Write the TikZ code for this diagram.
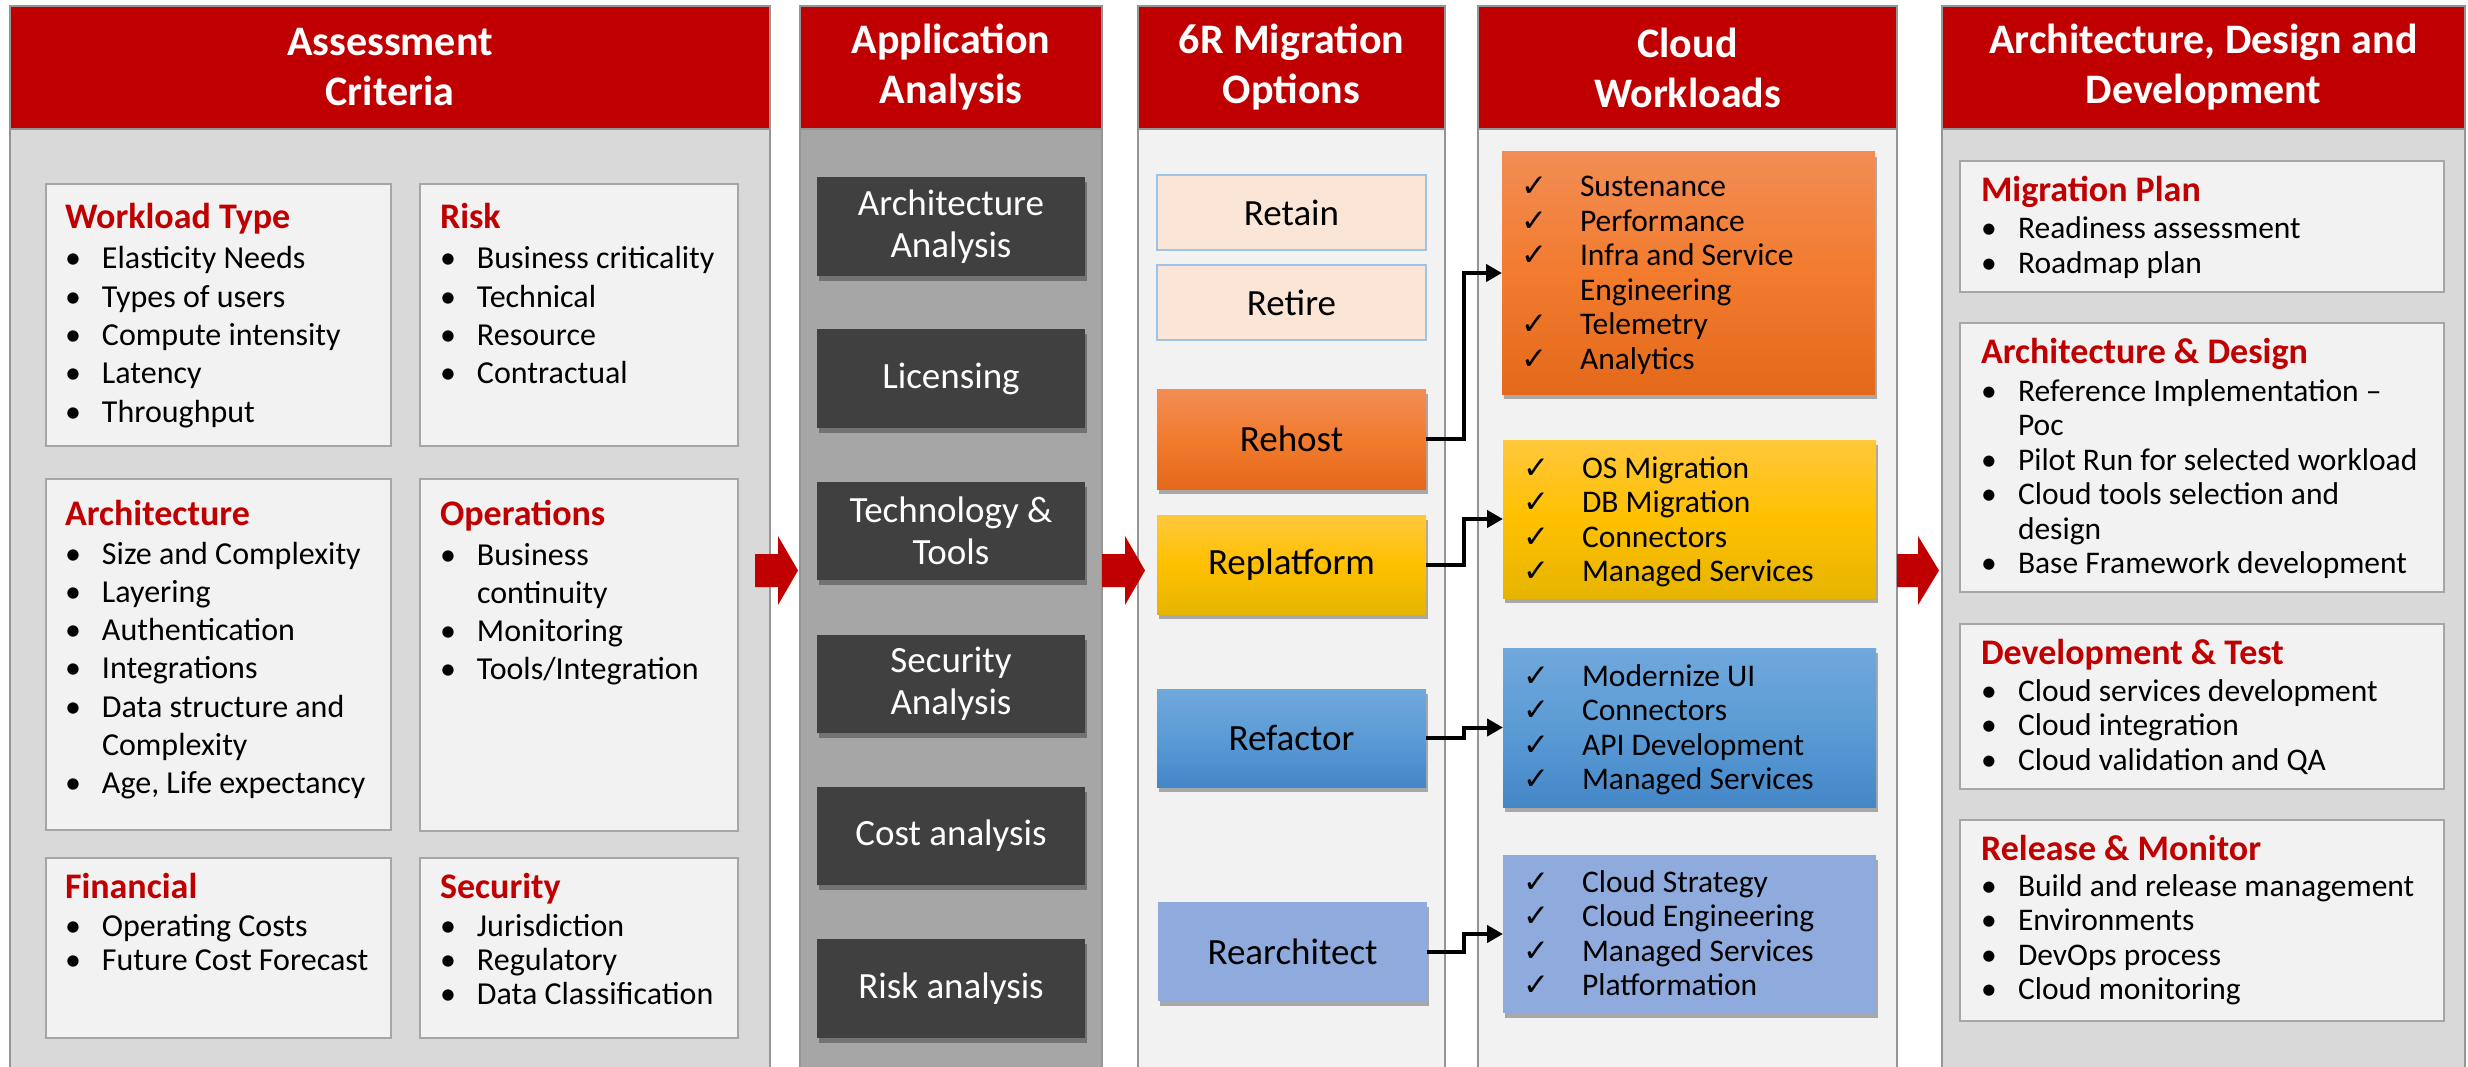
\documentclass[tikz,border=0pt]{standalone}
\usepackage{fontspec}
\setmainfont{Carlito}
\newfontfamily\symf{DejaVu Sans}
\usetikzlibrary{shadows,arrows.meta,calc}
\definecolor{hdr}{HTML}{C00000}
\definecolor{lgray}{HTML}{D9D9D9}
\definecolor{mgray}{HTML}{A6A6A6}
\definecolor{pale}{HTML}{F2F2F2}
\definecolor{colline}{HTML}{959595}
\definecolor{boxline}{HTML}{A6A6A6}
\definecolor{darkbox}{HTML}{404040}
\definecolor{retfill}{HTML}{FBE5D6}
\definecolor{retline}{HTML}{9DC3E6}
\definecolor{orT}{HTML}{F28D55}
\definecolor{orM}{HTML}{F27B2E}
\definecolor{orB}{HTML}{E4691A}
\definecolor{yeT}{HTML}{FFC83C}
\definecolor{yeM}{HTML}{FFC000}
\definecolor{yeB}{HTML}{E6B400}
\definecolor{blT}{HTML}{70A8DC}
\definecolor{blM}{HTML}{5B9BD5}
\definecolor{blB}{HTML}{4487C8}
\definecolor{peri}{HTML}{8FAADC}
\newcommand\bi{\makebox[37pt][l]{•}}
\newcommand\bc{\makebox[37pt][l]{}}
\newcommand\ck{\makebox[59pt][l]{\symf\fontsize{31}{31}\selectfont ✓}}
\newcommand\cc{\makebox[59pt][l]{}}
\begin{document}
\begin{tikzpicture}[x=1pt,y=-1pt,
  colbody/.style={draw=colline, line width=1.5pt, inner sep=0pt, outer sep=0pt, anchor=north west},
  hdrbox/.style={colbody, fill=hdr, text=white, align=center, font=\fontsize{42}{50}\selectfont\bfseries},
  catbox/.style={draw=boxline, fill=pale, line width=2pt, inner sep=0pt, outer sep=0pt, anchor=north west},
  cattitle/.style={anchor=base west, inner sep=0pt, outer sep=0pt, text=hdr, font=\fontsize{36}{43}\selectfont\bfseries},
  lista/.style={anchor=base west, inner sep=0pt, outer sep=0pt, font=\fontsize{32}{38.3}\selectfont},
  listb/.style={anchor=base west, inner sep=0pt, outer sep=0pt, font=\fontsize{32}{34}\selectfont},
  listc/.style={anchor=base west, inner sep=0pt, outer sep=0pt, font=\fontsize{31.5}{34.5}\selectfont},
  shad/.style={drop shadow={shadow xshift=2pt, shadow yshift=-5pt, opacity=0.3, fill=black}},
  darkbox/.style={fill=darkbox, text=white, inner sep=0pt, outer sep=0pt, anchor=north west, align=center,
     minimum width=268pt, font=\fontsize{37}{42}\selectfont, shad},
  optbox/.style={inner sep=0pt, outer sep=0pt, anchor=north west, align=center,
     minimum width=269pt, font=\fontsize{37}{42}\selectfont},
  wlbox/.style={inner sep=0pt, outer sep=0pt, anchor=north west, minimum width=373pt, shad},
  conn/.style={draw=black, line width=4pt, line join=miter, -{Triangle[length=16pt,width=17pt]}},
  redarrow/.style={fill=hdr}
]
\useasboundingbox (0,0) rectangle (2468,1067);
\clip (0,0) rectangle (2468,1067);
\fill[white] (0,0) rectangle (2468,1067);

% ---------- column bodies ----------
\node[colbody, fill=lgray, minimum width=760pt, minimum height=960pt] (c1) at (10,129) {};
\node[colbody, fill=mgray, minimum width=302pt, minimum height=960pt] (c2) at (800,129) {};
\node[colbody, fill=pale,  minimum width=307pt, minimum height=960pt] (c3) at (1138,129) {};
\node[colbody, fill=pale,  minimum width=419pt, minimum height=960pt] (c4) at (1478,129) {};
\node[colbody, fill=lgray, minimum width=523pt, minimum height=960pt] (c5) at (1942,129) {};

% ---------- headers ----------
\node[hdrbox, minimum width=760pt, minimum height=123pt] (h1) at (10,6) {Assessment\\Criteria};
\node[hdrbox, minimum width=302pt, minimum height=123pt] (h2) at (800,6) {Application\\Analysis};
\node[hdrbox, minimum width=307pt, minimum height=123pt] (h3) at (1138,6) {6R Migration\\Options};
\node[hdrbox, minimum width=419pt, minimum height=123pt] (h4) at (1478,6) {Cloud\\Workloads};
\node[hdrbox, minimum width=523pt, minimum height=123pt] (h5) at (1942,6) {Architecture, Design and\\Development};

% ---------- column 1 ----------
\node[catbox, minimum width=345pt, minimum height=262pt] (wl) at (46,184) {};
\node[catbox, minimum width=318pt, minimum height=262pt] (rk) at (420,184) {};
\node[catbox, minimum width=345pt, minimum height=351pt] (ar) at (46,479) {};
\node[catbox, minimum width=318pt, minimum height=352pt] (op) at (420,479) {};
\node[catbox, minimum width=345pt, minimum height=180pt] (fi) at (46,858) {};
\node[catbox, minimum width=318pt, minimum height=180pt] (se) at (420,858) {};

\node[cattitle] (wlt) at (65,229) {Workload Type};
\node[lista] (wll) at (65,269) {\begin{tabular}[t]{@{}l@{}}\bi Elasticity Needs\\\bi Types of users\\\bi Compute intensity\\\bi Latency\\\bi Throughput\end{tabular}};
\node[cattitle] (rkt) at (440,229) {Risk};
\node[lista] (rkl) at (440,269) {\begin{tabular}[t]{@{}l@{}}\bi Business criticality\\\bi Technical\\\bi Resource\\\bi Contractual\end{tabular}};
\node[cattitle] (art) at (65,525) {Architecture};
\node[lista] (arl) at (65,564) {\begin{tabular}[t]{@{}l@{}}\bi Size and Complexity\\\bi Layering\\\bi Authentication\\\bi Integrations\\\bi Data structure and\\\bc Complexity\\\bi Age, Life expectancy\end{tabular}};
\node[cattitle] (opt) at (440,525) {Operations};
\node[lista] (opl) at (440,565) {\begin{tabular}[t]{@{}l@{}}\bi Business\\\bc continuity\\\bi Monitoring\\\bi Tools/Integration\end{tabular}};
\node[cattitle] (fit) at (65,898) {Financial};
\node[listb] (fil) at (65,936) {\begin{tabular}[t]{@{}l@{}}\bi Operating Costs\\\bi Future Cost Forecast\end{tabular}};
\node[cattitle] (set) at (440,898) {Security};
\node[listb] (sel) at (440,936) {\begin{tabular}[t]{@{}l@{}}\bi Jurisdiction\\\bi Regulatory\\\bi Data Classification\end{tabular}};

% ---------- column 2 ----------
\node[darkbox, minimum height=99pt] (aa) at (817,177) {Architecture\\Analysis};
\node[darkbox, minimum height=99pt] (li) at (817,329) {Licensing};
\node[darkbox, minimum height=98pt] (tt) at (817,482) {Technology \&\\Tools};
\node[darkbox, minimum height=98pt] (sa) at (817,635) {Security\\Analysis};
\node[darkbox, minimum height=98pt] (ca) at (817,787) {Cost analysis};
\node[darkbox, minimum height=99pt] (ra) at (817,939) {Risk analysis};

% ---------- column 3 ----------
\node[optbox, fill=retfill, draw=retline, line width=1.5pt, minimum height=75pt] (retain) at (1157,175) {Retain};
\node[optbox, fill=retfill, draw=retline, line width=1.5pt, minimum height=75pt] (retire) at (1157,265) {Retire};
\node[optbox, shad, top color=orT, bottom color=orB, middle color=orM, minimum height=100pt] (rehost) at (1157,389) {Rehost};
\node[optbox, shad, top color=yeT, bottom color=yeB, middle color=yeM, minimum height=99pt] (replat) at (1157,515) {Replatform};
\node[optbox, shad, top color=blT, bottom color=blB, middle color=blM, minimum height=98pt] (refac) at (1157,689) {Refactor};
\node[optbox, shad, fill=peri, minimum height=99pt] (rearch) at (1158,902) {Rearchitect};

% ---------- column 4 ----------
\node[wlbox, top color=orT, bottom color=orB, middle color=orM, minimum height=242pt] (w1) at (1502,152) {};
\node[wlbox, top color=yeT, bottom color=yeB, middle color=yeM, minimum height=158pt] (w2) at (1503,440) {};
\node[wlbox, top color=blT, bottom color=blB, middle color=blM, minimum height=159pt] (w3) at (1503,648) {};
\node[wlbox, fill=peri, minimum height=158pt] (w4) at (1503,855) {};

\node[listc] (w1l) at (1521,197) {\begin{tabular}[t]{@{}l@{}}\ck Sustenance\\\ck Performance\\\ck Infra and Service\\\cc Engineering\\\ck Telemetry\\\ck Analytics\end{tabular}};
\node[listc] (w2l) at (1523,478) {\begin{tabular}[t]{@{}l@{}}\ck OS Migration\\\ck DB Migration\\\ck Connectors\\\ck Managed Services\end{tabular}};
\node[listc] (w3l) at (1523,686) {\begin{tabular}[t]{@{}l@{}}\ck Modernize UI\\\ck Connectors\\\ck API Development\\\ck Managed Services\end{tabular}};
\node[listc] (w4l) at (1523,892) {\begin{tabular}[t]{@{}l@{}}\ck Cloud Strategy\\\ck Cloud Engineering\\\ck Managed Services\\\ck Platformation\end{tabular}};

% ---------- column 5 ----------
\node[catbox, minimum width=484pt, minimum height=131pt] (mp) at (1960,161) {};
\node[catbox, minimum width=484pt, minimum height=269pt] (ad) at (1960,323) {};
\node[catbox, minimum width=484pt, minimum height=165pt] (dt) at (1960,624) {};
\node[catbox, minimum width=484pt, minimum height=201pt] (rm) at (1960,820) {};

\node[cattitle] (mpt) at (1981,201.5) {Migration Plan};
\node[listc] (mpl) at (1981,239) {\begin{tabular}[t]{@{}l@{}}\bi Readiness assessment\\\bi Roadmap plan\end{tabular}};
\node[cattitle] (adt) at (1981,363) {Architecture \& Design};
\node[listc] (adl) at (1981,401) {\begin{tabular}[t]{@{}l@{}}\bi Reference Implementation --\\\bc Poc\\\bi Pilot Run for selected workload\\\bi Cloud tools selection and\\\bc design\\\bi Base Framework development\end{tabular}};
\node[cattitle] (dtt) at (1981,664.5) {Development \& Test};
\node[listc] (dtl) at (1981,701) {\begin{tabular}[t]{@{}l@{}}\bi Cloud services development\\\bi Cloud integration\\\bi Cloud validation and QA\end{tabular}};
\node[cattitle] (rmt) at (1981,860) {Release \& Monitor};
\node[listc] (rml) at (1981,896) {\begin{tabular}[t]{@{}l@{}}\bi Build and release management\\\bi Environments\\\bi DevOps process\\\bi Cloud monitoring\end{tabular}};

% ---------- connectors ----------
\coordinate (mid) at (1464,0);
\draw[conn] (rehost.east) -- (rehost.east -| mid) |- (w1.west);
\draw[conn] (replat.east) -- (replat.east -| mid) |- (w2.west);
\draw[conn] (refac.east) -- (refac.east -| mid) |- (w3.west);
\draw[conn] (rearch.east) -- (rearch.east -| mid) |- (w4.west);

% ---------- red block arrows ----------
\fill[redarrow] (755,554) -- (778,554) -- (778,536) -- (798,570.5) -- (778,605) -- (778,587) -- (755,587) -- cycle;
\fill[redarrow] (1102,554) -- (1125,554) -- (1125,536) -- (1145,570.5) -- (1125,605) -- (1125,587) -- (1102,587) -- cycle;
\fill[redarrow] (1897,554) -- (1918,554) -- (1918,536) -- (1939,570.5) -- (1918,605) -- (1918,587) -- (1897,587) -- cycle;
\end{tikzpicture}
\end{document}
